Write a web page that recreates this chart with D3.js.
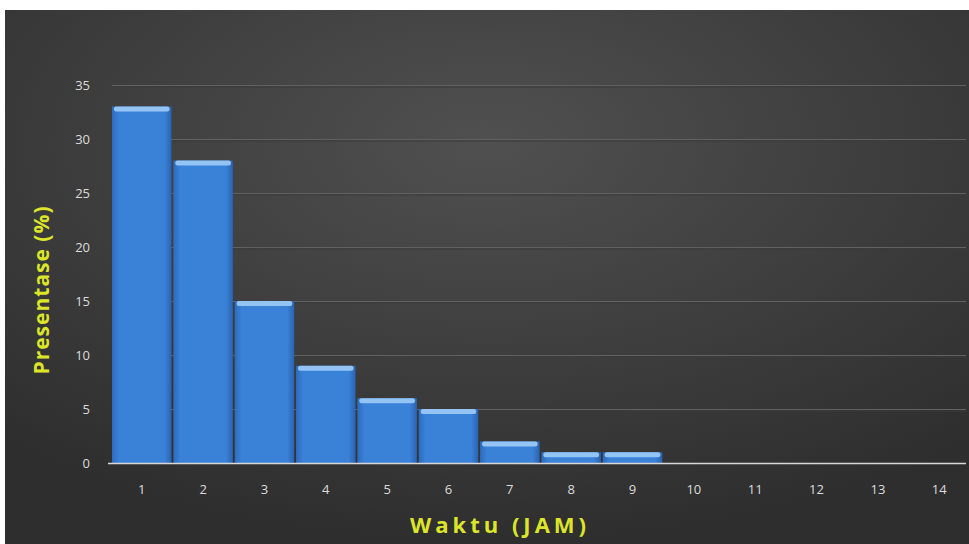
<!DOCTYPE html>
<html lang="id">
<head>
<meta charset="utf-8"/>
<title>Presentase per Waktu</title>
<script src="https://d3js.org/d3.v7.min.js"></script>
<style>
  body { margin: 0; background: #fff; }
  .tick text { fill: #dcdcdc; font-family: "Open Sans", sans-serif; font-size: 13px; }
  .axis .domain { display: none; }
  .axis line { display: none; }
</style>
</head>
<body>
<div id="chart"></div>
<script>
// data
var hours = ["1","2","3","4","5","6","7","8","9","10","11","12","13","14"];
var percent = [33, 28, 15, 9, 6, 5, 2, 1, 1, 0, 0, 0, 0, 0];
var yTicks = [0, 5, 10, 15, 20, 25, 30, 35];

var width = 969, height = 544;

var svg = d3.select("#chart").append("svg")
    .attr("width", width)
    .attr("height", height);

var defs = svg.append("defs");

var bg = defs.append("radialGradient")
    .attr("id", "bg")
    .attr("cx", "50%").attr("cy", "25%").attr("r", "75%");
bg.append("stop").attr("offset", "0%").attr("stop-color", "#505050");
bg.append("stop").attr("offset", "100%").attr("stop-color", "#2e2e2e");

var barGrad = defs.append("linearGradient")
    .attr("id", "bar")
    .attr("x1", "0%").attr("x2", "100%");
barGrad.append("stop").attr("offset", "0%").attr("stop-color", "#2d6bbf");
barGrad.append("stop").attr("offset", "12%").attr("stop-color", "#3a82d8");
barGrad.append("stop").attr("offset", "88%").attr("stop-color", "#3a82d8");
barGrad.append("stop").attr("offset", "100%").attr("stop-color", "#2a63b2");

// chart area (white strip on top and left like the picture)
svg.append("rect")
    .attr("x", 5).attr("y", 10)
    .attr("width", width - 5).attr("height", height - 10)
    .attr("fill", "url(#bg)");

var x = d3.scaleBand()
    .domain(hours)
    .range([112, 969])
    .paddingInner(0.03)
    .paddingOuter(0);

var y = d3.scaleLinear()
    .domain([0, 35])
    .range([463, 85]);

// gridlines
var grid = svg.append("g");
grid.selectAll("line.g1")
    .data(yTicks.slice(1))
    .enter().append("line")
    .attr("class", "g1")
    .attr("x1", 112).attr("x2", 966)
    .attr("y1", function(d) { return y(d) + 0.5; })
    .attr("y2", function(d) { return y(d) + 0.5; })
    .attr("stroke", "#616161")
    .attr("stroke-width", 1);
grid.selectAll("line.g2")
    .data(yTicks.slice(1))
    .enter().append("line")
    .attr("class", "g2")
    .attr("x1", 112).attr("x2", 966)
    .attr("y1", function(d) { return y(d) + 2; })
    .attr("y2", function(d) { return y(d) + 2; })
    .attr("stroke", "#3a3a3a")
    .attr("stroke-width", 1);

// bars
var bars = svg.append("g")
    .selectAll("g")
    .data(hours)
    .enter().append("g");

bars.append("rect")
    .attr("x", function(d) { return x(d); })
    .attr("y", function(d, i) { return y(percent[i]); })
    .attr("width", x.bandwidth())
    .attr("height", function(d, i) { return y(0) - y(percent[i]); })
    .attr("fill", "url(#bar)");

// top bevel
bars.filter(function(d, i) { return percent[i] > 0; })
  .append("rect")
    .attr("x", function(d) { return x(d) + 2; })
    .attr("y", function(d, i) { return y(percent[i]); })
    .attr("width", x.bandwidth() - 4)
    .attr("height", 5)
    .attr("rx", 2)
    .attr("fill", "#93c4f3");

// baseline
svg.append("line")
    .attr("x1", 108).attr("x2", 966)
    .attr("y1", y(0) + 0.5).attr("y2", y(0) + 0.5)
    .attr("stroke", "#d8d8d8")
    .attr("stroke-width", 1.5);

// axes
svg.append("g")
    .attr("class", "axis")
    .attr("transform", "translate(0," + (y(0) + 16) + ")")
    .call(d3.axisBottom(x).tickSize(0).tickPadding(6));

svg.append("g")
    .attr("class", "axis")
    .attr("transform", "translate(96,0)")
    .call(d3.axisLeft(y).tickValues(yTicks).tickSize(0).tickPadding(6));

// axis titles
svg.append("text")
    .attr("transform", "translate(49,290) rotate(-90)")
    .attr("text-anchor", "middle")
    .attr("fill", "#dde52a")
    .attr("font-family", "'Open Sans', sans-serif")
    .attr("font-weight", "bold")
    .attr("font-size", 21)
    .attr("letter-spacing", 1)
    .text("Presentase (%)");

svg.append("text")
    .attr("x", 500).attr("y", 533)
    .attr("text-anchor", "middle")
    .attr("fill", "#dde52a")
    .attr("font-family", "'Open Sans', sans-serif")
    .attr("font-weight", "bold")
    .attr("font-size", 22)
    .attr("letter-spacing", 4)
    .text("Waktu (JAM)");
</script>
</body>
</html>
